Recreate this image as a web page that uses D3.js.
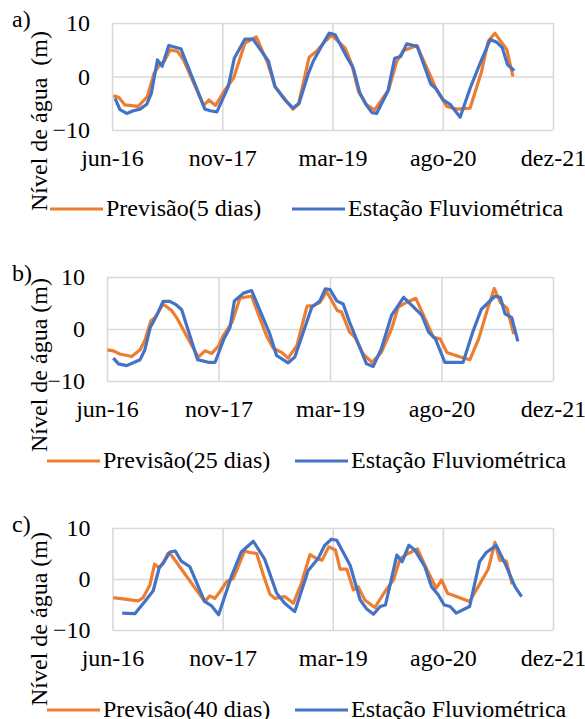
<!DOCTYPE html>
<html>
<head>
<meta charset="utf-8">
<script src="https://cdn.jsdelivr.net/npm/d3@7"></script>
<style>
  body { margin: 0; background: #fff; }
  svg text { font-family: "Liberation Serif", "Times New Roman", serif; font-size: 24px; fill: #000; }
</style>
</head>
<body>
<div id="chart"></div>
<script>
// x values = months since jun-16, y values = water level (m)
var xTickValues = [0, 16.5, 33, 49.5, 66];
var xTickLabels = ["jun-16", "nov-17", "mar-19", "ago-20", "dez-21"];
var yTickValues = [-10, 0, 10];
var panelTags = ["a)", "b)", "c)"];
var yLabels = ["Nível de água  (m)", "Nível de água (m)", "Nível de água (m)"];
var forecastNames = ["Previsão(5 dias)", "Previsão(25 dias)", "Previsão(40 dias)"];
var stationName = "Estação Fluviométrica";

var prev5 = [[0.2,-3.6],[1.0,-3.9],[1.9,-5.3],[3.9,-5.6],[5.3,-3.75],[6.3,0.6],[7.2,2.3],[7.8,2.8],[8.7,5.0],[9.8,4.7],[10.7,3.1],[13.7,-5.4],[14.5,-4.4],[15.5,-5.4],[16.9,-2.5],[18.2,-0.3],[19.9,6.25],[21.6,7.4],[23.3,2.5],[24.4,-1.9],[27.1,-6.1],[27.9,-5.2],[29.5,3.6],[30.6,4.7],[31.9,6.6],[32.9,7.7],[34.9,5.3],[35.9,2.2],[36.9,-2.9],[38.1,-5.3],[39.3,-6.25],[41.4,-2.5],[42.6,2.8],[43.6,4.8],[45.6,5.8],[47.7,0],[48.5,-2.3],[50.1,-5.6],[51.6,-6.1],[53.6,-5.9],[55.3,0.9],[56.3,6.6],[57.3,8.1],[59.1,5.0],[60.0,0]];
var obs5 = [[0.45,-4.1],[1.2,-6.2],[2.2,-6.9],[3.2,-6.4],[4.2,-6.1],[5.2,-5.2],[5.9,-3.1],[6.8,3.1],[7.5,1.9],[8.5,5.8],[10.3,5.2],[13.9,-6.1],[14.7,-6.4],[15.7,-6.6],[17.4,-1.9],[18.3,3.4],[19.9,7.0],[21.1,7.0],[23.4,2.9],[24.4,-1.9],[25.9,-4.4],[27.1,-5.9],[28.0,-5.0],[29.4,0.6],[30.1,2.8],[31.6,6.2],[32.5,8.1],[33.4,7.8],[35.1,3.75],[36.1,1.6],[37.1,-3.1],[38.1,-5.4],[38.9,-6.75],[39.6,-6.9],[41.3,-2.7],[42.3,3.4],[43.2,3.75],[44.1,6.1],[45.7,5.6],[47.7,-1.4],[48.5,-2.3],[49.6,-4.4],[50.6,-5.2],[52.1,-7.6],[53.6,-2.2],[55.1,2.5],[56.6,6.9],[57.6,6.4],[58.4,5.4],[59.2,2.2],[60.2,1.1]];

var prev25 = [[0.05,-4.0],[0.94,-4.2],[1.9,-4.8],[3.65,-5.3],[4.9,-4.0],[5.6,-2.2],[6.5,1.6],[7.1,2.2],[8.3,4.8],[9.6,3.5],[10.3,2.2],[12.3,-2.6],[13.5,-5.4],[14.5,-4.2],[15.5,-4.7],[16.5,-3.3],[17.2,-1.3],[18.5,1.3],[19.7,6.0],[21.4,6.3],[23.6,-1.3],[24.6,-3.7],[25.85,-4.5],[26.8,-5.6],[28.1,-3.2],[29.6,4.4],[30.5,4.5],[31.5,5.1],[32.5,7.2],[34.1,3.5],[34.7,3.3],[35.9,-0.6],[36.7,-1.6],[37.9,-4.8],[39.2,-6.4],[40.6,-4.5],[42.1,0],[43.1,4.2],[44.3,5.1],[45.7,5.9],[47.1,1.9],[48.3,-1.6],[49.3,-1.9],[50.3,-4.5],[52.3,-5.4],[53.7,-5.9],[55.0,-1.9],[56.4,4.2],[57.3,7.8],[58.2,5.1],[59.2,4.0],[60.2,-1.0]];
var obs25 = [[0.94,-5.6],[1.7,-6.7],[2.9,-7.05],[4.9,-5.9],[5.6,-4.0],[6.4,0.3],[7.35,2.6],[8.3,5.3],[9.3,5.3],[10.2,4.7],[11.05,3.7],[13.4,-5.9],[15.0,-6.4],[16.0,-6.4],[17.3,-1.9],[18.2,0.3],[18.85,5.4],[20.2,6.9],[21.4,7.4],[24.1,-1.0],[25.1,-5.1],[26.8,-6.5],[27.8,-5.4],[30.3,4.2],[31.5,5.4],[32.3,7.7],[33.0,7.6],[34.0,5.4],[34.95,4.8],[35.9,1.3],[38.4,-6.7],[39.4,-7.2],[40.6,-3.8],[42.1,2.6],[43.9,6.1],[45.3,4.3],[46.6,2.6],[47.6,-0.6],[48.6,-1.9],[50.0,-6.4],[52.7,-6.4],[54.2,-0.3],[55.4,3.8],[57.4,6.3],[58.2,6.1],[58.9,2.9],[59.9,2.2],[60.8,-2.4]];

var prev40 = [[0.1,-3.65],[3.85,-4.3],[4.6,-3.65],[5.6,-1.2],[6.3,2.9],[7.0,2.2],[7.7,3.4],[8.3,5.0],[8.8,4.7],[13.8,-4.4],[14.6,-3.3],[15.3,-3.8],[16.1,-2.5],[17.1,-0.5],[18.1,0.1],[19.8,5.5],[20.6,5.2],[21.6,5.0],[22.6,0.8],[23.6,-3.0],[24.3,-3.8],[25.8,-3.45],[27.1,-4.75],[28.3,-0.85],[29.6,4.8],[30.6,4.0],[31.4,3.7],[32.4,6.3],[33.4,5.7],[34.1,1.95],[35.1,1.95],[36.1,-2.15],[36.8,-1.5],[37.8,-4.1],[39.3,-5.6],[40.8,-2.5],[42.1,-0.2],[43.1,4.0],[44.3,5.0],[45.7,5.9],[46.8,2.7],[48.5,-1.8],[49.3,-0.2],[50.2,-2.8],[53.5,-4.4],[54.8,-1.5],[56.3,1.95],[57.3,7.2],[58.0,3.7],[59.0,3.5],[59.9,-1.05]];
var obs40 = [[1.45,-6.7],[3.35,-6.8],[4.85,-4.4],[6.1,-2.3],[7.0,2.2],[7.6,3.1],[8.6,5.3],[9.4,5.5],[10.3,3.5],[11.6,2.4],[13.8,-4.4],[14.8,-5.2],[15.9,-7.0],[17.8,0.45],[19.3,5.3],[21.1,7.4],[22.8,3.9],[24.6,-2.8],[25.8,-4.75],[27.3,-6.4],[29.3,1.6],[30.8,4.0],[31.8,6.6],[32.8,7.8],[33.6,7.6],[35.6,2.7],[37.1,-4.1],[38.1,-5.9],[39.1,-6.9],[40.1,-5.4],[40.9,-5.1],[42.6,4.7],[43.4,3.4],[44.4,6.6],[45.3,5.7],[46.8,2.4],[47.8,-1.5],[48.8,-3.1],[49.7,-5.1],[50.6,-5.4],[51.5,-6.7],[53.5,-5.4],[55.0,3.4],[56.0,5.2],[57.5,6.6],[58.8,3.1],[60.3,-1.5],[61.3,-3.45]];

var forecastColor = "#ED7D31",
  stationColor = "#4472C4",
  gridColor = "#d9d9d9";

var width = 585,
  height = 719;

var svg = d3.select("#chart").append("svg")
  .attr("width", width)
  .attr("height", height);

// one entry per panel: series + where the panel sits
var panels = [
  {forecast: prev5, station: obs5, left: 112, right: 553, top: 23, bottom: 130, labelY: 121, legendY: 209, orangeX: 50, blueX: 292},
  {forecast: prev25, station: obs25, left: 107, right: 553, top: 277, bottom: 381, labelY: 365, legendY: 461, orangeX: 47, blueX: 295},
  {forecast: prev40, station: obs40, left: 112.5, right: 553, top: 528, bottom: 630, labelY: 619, legendY: 710, orangeX: 47, blueX: 295}
];

panels.forEach(function(p, i) {
  var x = d3.scaleLinear().domain([0, 66]).range([p.left, p.right]);
  var y = d3.scaleLinear().domain([-10, 10]).range([p.bottom, p.top]);
  var g = svg.append("g");

  // x axis with vertical gridlines
  var xAxis = g.append("g")
    .attr("transform", "translate(0," + p.bottom + ")")
    .call(d3.axisBottom(x)
      .tickValues(xTickValues)
      .tickFormat(function(d, k) { return xTickLabels[k]; })
      .tickSize(-(p.bottom - p.top))
      .tickPadding(19));
  // y axis with horizontal gridlines
  var yAxis = g.append("g")
    .attr("transform", "translate(" + p.left + ",0)")
    .call(d3.axisLeft(y)
      .tickValues(yTickValues)
      .tickSize(-(p.right - p.left))
      .tickPadding(22));
  [xAxis, yAxis].forEach(function(ax) {
    ax.select(".domain").remove();
    ax.selectAll(".tick line").attr("stroke", gridColor).attr("stroke-width", 1.6);
  });

  var line = d3.line()
    .x(function(d) { return x(d[0]); })
    .y(function(d) { return y(d[1]); });

  g.append("path")
    .datum(p.forecast)
    .attr("d", line)
    .attr("fill", "none")
    .attr("stroke", forecastColor)
    .attr("stroke-width", 3.2)
    .attr("stroke-linejoin", "round");
  g.append("path")
    .datum(p.station)
    .attr("d", line)
    .attr("fill", "none")
    .attr("stroke", stationColor)
    .attr("stroke-width", 3.2)
    .attr("stroke-linejoin", "round");

  // panel tag and y label
  g.append("text").attr("x", 12).attr("y", p.top + 4).text(panelTags[i]);
  g.append("text")
    .attr("transform", "translate(47," + p.labelY + ") rotate(-90)")
    .attr("text-anchor", "middle")
    .style("white-space", "pre")
    .text(yLabels[i]);

  // legend
  var legendItems = [
    {x: p.orangeX, color: forecastColor, name: forecastNames[i]},
    {x: p.blueX, color: stationColor, name: stationName}
  ];
  legendItems.forEach(function(item) {
    g.append("line")
      .attr("x1", item.x).attr("x2", item.x + 53)
      .attr("y1", p.legendY).attr("y2", p.legendY)
      .attr("stroke", item.color)
      .attr("stroke-width", 3.2);
    g.append("text")
      .attr("x", item.x + 56)
      .attr("y", p.legendY + 7)
      .text(item.name);
  });
});
</script>
</body>
</html>
